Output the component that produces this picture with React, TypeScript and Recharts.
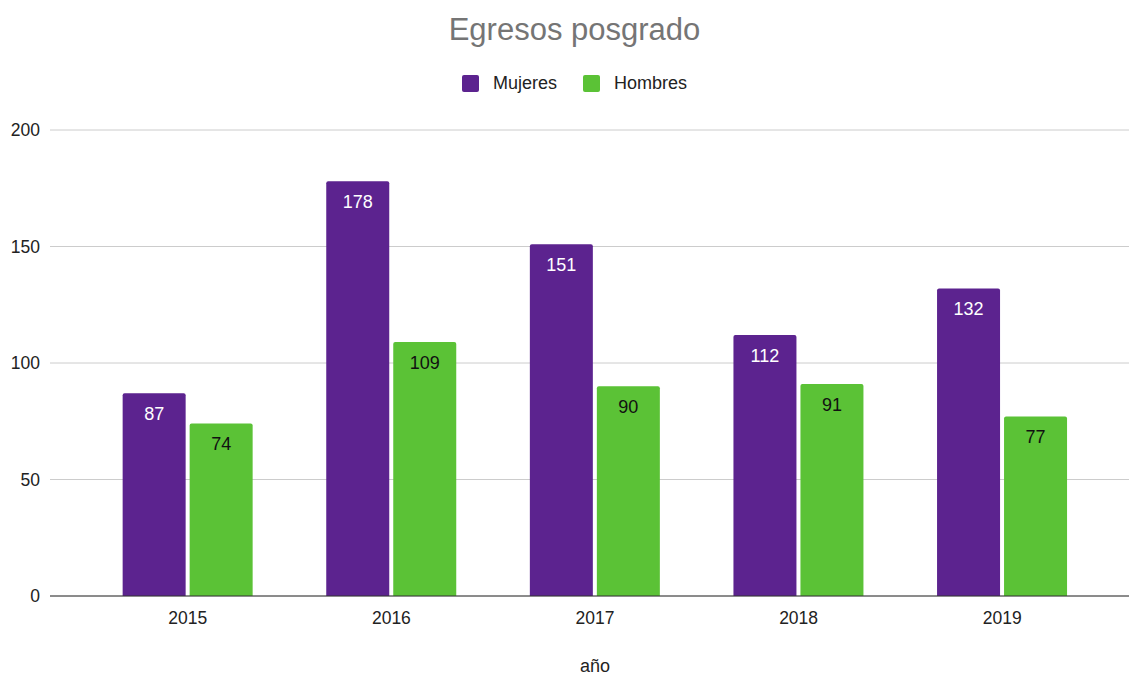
import React from "react";
import {
  BarChart,
  Bar,
  XAxis,
  YAxis,
  CartesianGrid,
  LabelList,
} from "recharts";

const years = ["2015", "2016", "2017", "2018", "2019"];
const mujeres = [87, 178, 151, 112, 132];
const hombres = [74, 109, 90, 91, 77];
const yTicks = [0, 50, 100, 150, 200];

const PURPLE = "#5c238f";
const GREEN = "#5bc236";
const FONT = "'Liberation Sans', Arial, sans-serif";

const data = years.map((year, i) => ({
  year,
  Mujeres: mujeres[i],
  Hombres: hombres[i],
}));

const legendItems = [
  { name: "Mujeres", color: PURPLE },
  { name: "Hombres", color: GREEN },
];

export default function App() {
  return (
    <div
      style={{
        position: "absolute",
        left: 0,
        top: 0,
        width: 1129,
        height: 675,
        background: "#fff",
        fontFamily: FONT,
      }}
    >
      <div
        style={{
          position: "absolute",
          top: 12,
          left: 0,
          width: 1149,
          textAlign: "center",
          fontSize: 31,
          color: "#757575",
        }}
      >
        Egresos posgrado
      </div>
      <div
        style={{
          position: "absolute",
          top: 73,
          left: 0,
          width: 1149,
          display: "flex",
          justifyContent: "center",
          fontSize: 18,
          color: "#222",
        }}
      >
        {legendItems.map((item) => (
          <div
            key={item.name}
            style={{ display: "flex", alignItems: "center", margin: "0 13px" }}
          >
            <span
              style={{
                width: 17,
                height: 17,
                borderRadius: 2,
                background: item.color,
                marginRight: 14,
                display: "inline-block",
              }}
            ></span>
            <span>{item.name}</span>
          </div>
        ))}
      </div>
      <div style={{ position: "absolute", left: 0, top: 0 }}>
        <BarChart
          width={1129}
          height={675}
          data={data}
          margin={{ top: 130, right: 0, bottom: 0, left: 0 }}
          barCategoryGap="18%"
          barGap={4}
        >
          <CartesianGrid vertical={false} stroke="#cccccc" />
          <XAxis
            dataKey="year"
            height={79}
            padding={{ left: 36, right: 25 }}
            tickLine={false}
            tickSize={0}
            tickMargin={16}
            stroke="#333333"
            tick={{ fill: "#222", fontSize: 17.5, fontFamily: FONT }}
          />
          <YAxis
            width={50}
            domain={[0, 200]}
            ticks={yTicks}
            axisLine={false}
            tickLine={false}
            tickSize={0}
            tickMargin={10}
            tick={{ fill: "#222", fontSize: 17.5, fontFamily: FONT }}
          />
          <Bar
            dataKey="Mujeres"
            fill={PURPLE}
            radius={[2, 2, 0, 0]}
            isAnimationActive={false}
          >
            <LabelList
              dataKey="Mujeres"
              position="insideTop"
              offset={14}
              fill="#ffffff"
              fontSize={18}
              fontFamily={FONT}
            />
          </Bar>
          <Bar
            dataKey="Hombres"
            fill={GREEN}
            radius={[2, 2, 0, 0]}
            isAnimationActive={false}
          >
            <LabelList
              dataKey="Hombres"
              position="insideTop"
              offset={14}
              fill="#111111"
              fontSize={18}
              fontFamily={FONT}
            />
          </Bar>
        </BarChart>
      </div>
      <div
        style={{
          position: "absolute",
          top: 656,
          left: 86,
          width: 1018,
          textAlign: "center",
          fontSize: 18,
          lineHeight: "20px",
          color: "#222",
        }}
      >
        año
      </div>
    </div>
  );
}
